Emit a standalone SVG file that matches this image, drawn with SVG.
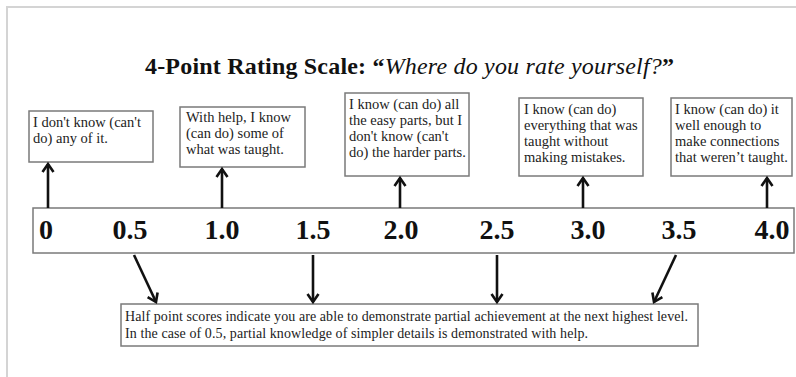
<svg xmlns="http://www.w3.org/2000/svg" width="796" height="377" viewBox="0 0 796 377">
<style>
.frame{stroke:#d4d4d4;stroke-width:2;fill:none}
.box{fill:#fff;stroke:#7a7a7a;stroke-width:1.5}
.bt{font-family:"Liberation Serif","Times New Roman",serif;font-size:14.5px;fill:#222}
.num{font-family:"Liberation Serif","Times New Roman",serif;font-size:28px;font-weight:bold;fill:#111}
.title{font-family:"Liberation Serif","Times New Roman",serif;font-size:24px;font-weight:bold;fill:#111}
.note{font-family:"Liberation Serif","Times New Roman",serif;font-size:14px;fill:#222}
.conn line{stroke:#111;stroke-width:2.6;marker-end:url(#arr)}
</style>
<defs>
<marker id="arr" markerUnits="userSpaceOnUse" markerWidth="16" markerHeight="16" viewBox="-10 -8 16 16" refX="0" refY="0" orient="auto">
<path d="M-8,-5.5 L0,0 L-8,5.5" fill="none" stroke="#111" stroke-width="2.6" stroke-linejoin="miter"/>
</marker>
</defs>
<rect width="796" height="377" fill="#fff"/>
<path class="frame" d="M7,377 V7 H796"/>
<text id="title" class="title" x="145" y="74" textLength="529" lengthAdjust="spacing">4-Point Rating Scale: “<tspan font-style="italic" font-weight="normal">Where do you rate yourself?</tspan>”</text>

<g id="scale">
<rect class="box" x="33" y="208" width="761" height="45"/>
<text class="num" x="46" y="239" text-anchor="middle">0</text>
<text class="num" x="130" y="239" text-anchor="middle">0.5</text>
<text class="num" x="222" y="239" text-anchor="middle">1.0</text>
<text class="num" x="313" y="239" text-anchor="middle">1.5</text>
<text class="num" x="401" y="239" text-anchor="middle">2.0</text>
<text class="num" x="497" y="239" text-anchor="middle">2.5</text>
<text class="num" x="588" y="239" text-anchor="middle">3.0</text>
<text class="num" x="679" y="239" text-anchor="middle">3.5</text>
<text class="num" x="772" y="239" text-anchor="middle">4.0</text>
</g>

<g id="box0">
<rect class="box" x="29" y="111" width="124" height="51"/>
<text class="bt" x="33" y="127">I don't know (can't</text>
<text class="bt" x="33" y="143">do) any of it.</text>
</g>
<g id="box1">
<rect class="box" x="180" y="107" width="125" height="60"/>
<text class="bt" x="186" y="122">With help, I know</text>
<text class="bt" x="186" y="138">(can do) some of</text>
<text class="bt" x="186" y="154">what was taught.</text>
</g>
<g id="box2">
<rect class="box" x="345" y="93" width="124" height="83"/>
<text class="bt" x="349" y="109">I know (can do) all</text>
<text class="bt" x="349" y="125">the easy parts, but I</text>
<text class="bt" x="349" y="141">don't know (can't</text>
<text class="bt" x="349" y="157">do) the harder parts.</text>
</g>
<g id="box3">
<rect class="box" x="519" y="98" width="124" height="78"/>
<text class="bt" x="524" y="114">I know (can do)</text>
<text class="bt" x="524" y="130">everything that was</text>
<text class="bt" x="524" y="146">taught without</text>
<text class="bt" x="524" y="162">making mistakes.</text>
</g>
<g id="box4">
<rect class="box" x="671" y="98" width="121" height="78"/>
<text class="bt" x="675" y="114">I know (can do) it</text>
<text class="bt" x="675" y="130">well enough to</text>
<text class="bt" x="675" y="146">make connections</text>
<text class="bt" x="675" y="162">that weren’t taught.</text>
</g>
<g id="note">
<rect class="box" x="121" y="304" width="577" height="42"/>
<text class="note" x="125" y="321" textLength="563" lengthAdjust="spacing">Half point scores indicate you are able to demonstrate partial achievement at the next highest level.</text>
<text class="note" x="125" y="338" textLength="463" lengthAdjust="spacing">In the case of 0.5, partial knowledge of simpler details is demonstrated with help.</text>
</g>

<g id="connectors" class="conn">
<line x1="48" y1="208" x2="48" y2="164"/>
<line x1="222" y1="208" x2="222" y2="169"/>
<line x1="400" y1="208" x2="400" y2="178"/>
<line x1="583" y1="208" x2="583" y2="178"/>
<line x1="767" y1="208" x2="767" y2="178"/>
<line x1="134" y1="255" x2="156" y2="302"/>
<line x1="313" y1="255" x2="313" y2="302"/>
<line x1="497" y1="255" x2="497" y2="302"/>
<line x1="676" y1="255" x2="654" y2="302"/>
</g>
</svg>
